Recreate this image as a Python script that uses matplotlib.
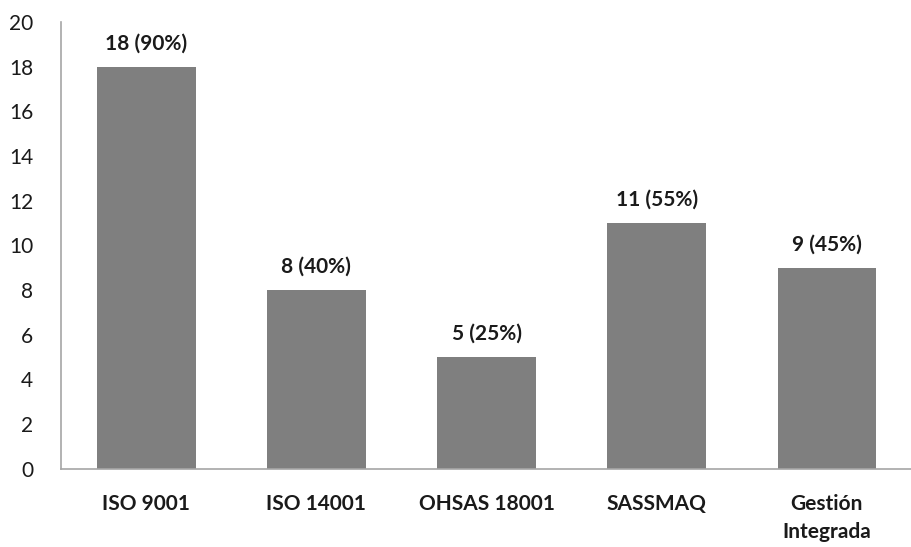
import matplotlib.pyplot as plt

# data
categories = ["ISO 9001", "ISO 14001", "OHSAS 18001", "SASSMAQ", "Gestión\nIntegrada"]
counts = [18, 8, 5, 11, 9]
percents = [90, 40, 25, 55, 45]

plt.rcParams['font.family'] = ['Lato', 'DejaVu Sans']

fig = plt.figure(figsize=(9.12, 5.47), dpi=100)
ax = fig.add_axes([0.067, 0.143, 0.933, 0.817])

x = list(range(len(categories)))
bars = ax.bar(x, counts, width=0.58, color="#7f7f7f")

for xi, c, p in zip(x, counts, percents):
    ax.text(xi, c + 0.6, f"{c} ({p}%)", ha="center", va="bottom",
            fontsize=15, fontweight="bold", color="#1a1a1a")

ax.set_xlim(-0.5, 4.5)
ax.set_ylim(0, 20)
ax.set_yticks(range(0, 21, 2))
ax.set_xticks(x)
ax.set_xticklabels(categories, fontsize=15, fontweight="bold", color="#1a1a1a",
                   va="top", linespacing=1.5)
ax.tick_params(axis="y", labelsize=15, length=0, pad=20, colors="#1a1a1a")
ax.tick_params(axis="x", length=0, pad=18)

for s in ["top", "right"]:
    ax.spines[s].set_visible(False)
for s in ["left", "bottom"]:
    ax.spines[s].set_color("#a6a6a6")
    ax.spines[s].set_linewidth(1.2)

fig.savefig("out.png", dpi=100)
